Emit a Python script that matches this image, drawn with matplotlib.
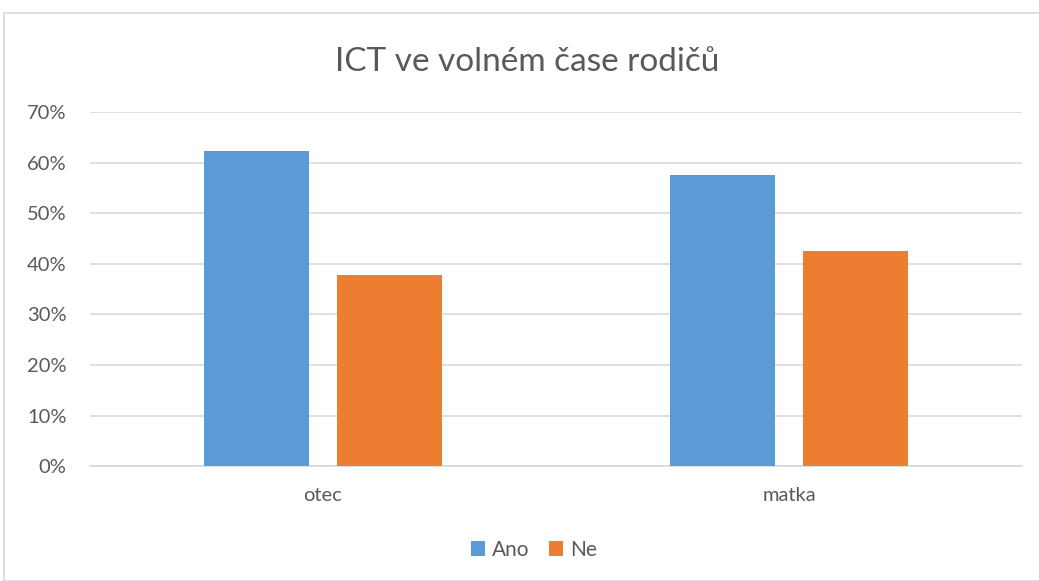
import matplotlib
matplotlib.use("Agg")
import matplotlib.pyplot as plt
import numpy as np
from matplotlib.patches import Rectangle

categories = ["otec", "matka"]
series_names = ["Ano", "Ne"]
ano = [0.623, 0.575]
ne = [0.377, 0.425]
yticks = [0, 0.1, 0.2, 0.3, 0.4, 0.5, 0.6, 0.7]
ytick_labels = ["0%", "10%", "20%", "30%", "40%", "50%", "60%", "70%"]
title = "ICT ve volném čase rodičů"

colors = ["#5B9BD5", "#ED7D31"]
text_color = "#595959"
plt.rcParams['font.family'] = ['Lato', 'DejaVu Sans']

W, H = 1039, 581
fig = plt.figure(figsize=(W / 100, H / 100), dpi=100)
fig.patches.append(Rectangle((4 / W, 0), 1.2, (H - 13) / H, transform=fig.transFigure,
                             fill=False, edgecolor="#D9D9D9", linewidth=1.2))

ax_l, ax_r, ax_t, ax_b = 90, 1022, 112, 466.3
ax = fig.add_axes([ax_l / W, (H - ax_b) / H, (ax_r - ax_l) / W, (ax_b - ax_t) / H])

x = np.arange(len(categories))
bw = 0.225
gap = 0.06
ax.bar(x - (bw + gap) / 2, ano, bw, color=colors[0], label=series_names[0], zorder=3)
ax.bar(x + (bw + gap) / 2, ne, bw, color=colors[1], label=series_names[1], zorder=3)

ax.set_xlim(-0.5, len(categories) - 0.5)
ax.set_ylim(0, 0.7)
ax.set_yticks(yticks)
ax.set_yticklabels(ytick_labels, fontsize=14.5, color=text_color)
ax.set_xticks(x)
ax.set_xticklabels(categories, fontsize=14.5, color=text_color)
ax.tick_params(axis='both', length=0)
ax.tick_params(axis='y', pad=17)
ax.tick_params(axis='x', pad=15)
ax.grid(axis='y', color="#D9D9D9", linewidth=1.2, zorder=0)
for s in ["top", "right", "left"]:
    ax.spines[s].set_visible(False)
ax.spines["bottom"].set_color("#D9D9D9")
ax.spines["bottom"].set_linewidth(1.2)

fig.text(527 / W, (H - 62) / H, title, ha="center", va="center", fontsize=24, color=text_color)

leg = fig.legend(loc="center", bbox_to_anchor=(534 / W, (H - 550) / H), ncol=2, frameon=False,
                 fontsize=15, handlelength=0.7, handleheight=0.7, handletextpad=0.35,
                 columnspacing=0.9)
for t in leg.get_texts():
    t.set_color(text_color)

fig.savefig("out.png", dpi=100)
